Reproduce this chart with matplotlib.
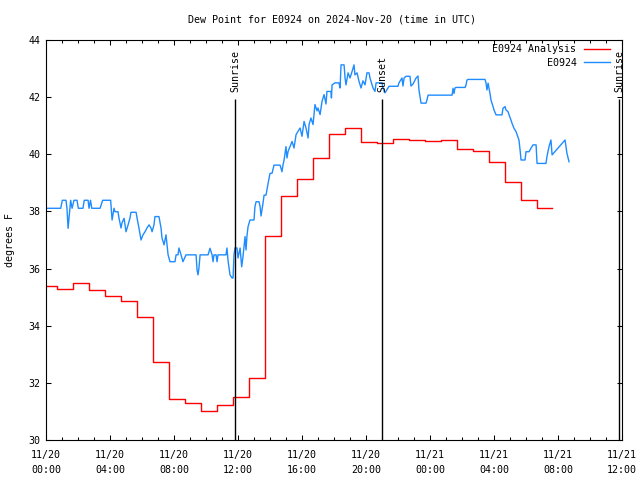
import matplotlib
matplotlib.use("Agg")
import matplotlib.pyplot as plt
from matplotlib.ticker import MultipleLocator

plt.rcParams['font.family'] = ['DejaVu Sans Mono']

# Analysis (hourly steps), hours since 11/20 00:00 UTC
red_t = [0.00, 0.67, 1.67, 2.67, 3.67, 4.67, 5.67, 6.67, 7.67, 8.67, 9.67, 10.67,
         11.67, 12.67, 13.67, 14.67, 15.67, 16.67, 17.67, 18.67, 19.67, 20.67, 21.67,
         22.67, 23.67, 24.67, 25.67, 26.67, 27.67, 28.67, 29.67, 30.67, 31.65]
red_v = [35.39, 35.28, 35.48, 35.24, 35.03, 34.85, 34.29, 32.72, 31.42, 31.28, 31.00, 31.21,
         31.49, 32.16, 37.15, 38.55, 39.14, 39.86, 40.70, 40.91, 40.42, 40.38, 40.55,
         40.51, 40.47, 40.49, 40.18, 40.10, 39.73, 39.04, 38.40, 38.11, 38.11]

# Observations
blue_t = [0.00, 0.92, 1.02, 1.25, 1.31, 1.38, 1.54, 1.63, 1.75, 1.94, 2.02, 2.31, 2.39, 2.63,
          2.69, 2.78, 2.86, 3.38, 3.54, 4.04, 4.13, 4.25, 4.31, 4.50, 4.56, 4.69, 4.75, 4.88,
          5.00, 5.13, 5.25, 5.31, 5.63, 5.69, 5.81, 5.94, 6.06, 6.19, 6.31, 6.44, 6.56, 6.63,
          6.75, 6.81, 7.06, 7.19, 7.25, 7.38, 7.50, 7.63, 7.75, 8.06, 8.13, 8.25, 8.31, 8.44,
          8.56, 8.75, 9.38, 9.44, 9.50, 9.56, 9.63, 10.13, 10.25, 10.38, 10.44, 10.50, 10.63,
          10.69, 10.75, 11.25, 11.31, 11.38, 11.50, 11.63, 11.69, 11.75, 11.81, 11.94, 12.00,
          12.13, 12.23, 12.31, 12.44, 12.50, 12.56, 12.63, 12.75, 13.00, 13.06, 13.13, 13.31,
          13.38, 13.44, 13.56, 13.63, 13.75, 13.88, 14.00, 14.13, 14.25, 14.63, 14.75, 14.81,
          14.88, 15.00, 15.06, 15.13, 15.25, 15.38, 15.50, 15.63, 15.75, 15.88, 16.00, 16.13,
          16.25, 16.38, 16.44, 16.56, 16.69, 16.81, 16.94, 17.00, 17.13, 17.25, 17.38, 17.50,
          17.56, 17.81, 17.84, 17.88, 18.06, 18.31, 18.38, 18.44, 18.63, 18.69, 18.75, 18.88,
          19.00, 19.13, 19.25, 19.31, 19.44, 19.56, 19.69, 19.81, 19.94, 20.06, 20.19, 20.25,
          20.38, 20.44, 20.56, 20.63, 21.00, 21.06, 21.19, 21.31, 21.44, 22.00, 22.06, 22.25,
          22.31, 22.38, 22.50, 22.75, 22.81, 22.94, 23.13, 23.25, 23.31, 23.44, 23.75, 23.81,
          23.88, 25.38, 25.44, 25.50, 25.56, 25.63, 26.19, 26.25, 26.31, 26.38, 27.44, 27.50,
          27.56, 27.63, 27.75, 27.81, 27.94, 28.00, 28.13, 28.50, 28.56, 28.69, 28.75, 28.88,
          28.94, 29.06, 29.13, 29.25, 29.38, 29.56, 29.63, 29.69, 29.94, 30.00, 30.19, 30.31,
          30.44, 30.63, 30.69, 31.25, 31.31, 31.44, 31.56, 31.63, 32.44, 32.56, 32.69]
blue_v = [38.11, 38.11, 38.39, 38.39, 38.11, 37.41, 38.39, 38.11, 38.39, 38.39, 38.11, 38.11,
          38.39, 38.39, 38.11, 38.39, 38.11, 38.11, 38.39, 38.39, 37.70, 38.11, 37.99, 37.99,
          37.77, 37.42, 37.60, 37.76, 37.29, 37.53, 37.77, 37.97, 37.97, 37.77, 37.42, 37.00,
          37.18, 37.29, 37.42, 37.53, 37.42, 37.29, 37.53, 37.82, 37.82, 37.42, 37.07, 36.83,
          37.18, 36.48, 36.24, 36.24, 36.48, 36.48, 36.72, 36.48, 36.24, 36.48, 36.48, 35.95,
          35.78, 36.02, 36.48, 36.48, 36.71, 36.48, 36.24, 36.48, 36.48, 36.24, 36.48, 36.48,
          36.72, 36.27, 35.78, 35.67, 35.67, 36.48, 36.72, 36.72, 36.37, 36.72, 36.06, 36.41,
          37.12, 36.65, 37.14, 37.47, 37.70, 37.70, 38.17, 38.34, 38.34, 38.17, 37.84, 38.28,
          38.57, 38.57, 38.98, 39.33, 39.34, 39.62, 39.62, 39.39, 39.62, 39.80, 40.27, 39.87,
          40.10, 40.27, 40.45, 40.22, 40.69, 40.80, 40.92, 40.63, 41.15, 40.92, 40.57, 41.04,
          41.27, 41.04, 41.74, 41.52, 41.62, 41.39, 41.85, 42.09, 41.76, 42.20, 42.20, 41.97,
          42.43, 42.50, 42.50, 42.32, 43.13, 43.13, 42.67, 42.43, 42.85, 42.67, 42.90, 43.13,
          42.78, 42.85, 42.56, 42.32, 42.57, 42.43, 42.85, 42.85, 42.67, 42.43, 42.32, 42.20,
          42.50, 42.50, 42.32, 42.15, 42.26, 42.38, 42.38, 42.50, 42.67, 42.39, 42.67, 42.73,
          42.73, 42.39, 42.46, 42.67, 42.74, 42.25, 41.79, 41.79, 41.90, 42.07, 42.07, 42.31,
          42.13, 42.32, 42.34, 42.34, 42.42, 42.60, 42.62, 42.62, 42.50, 42.25, 42.49, 42.13,
          41.90, 41.67, 41.55, 41.38, 41.38, 41.61, 41.67, 41.55, 41.49, 41.38, 41.20, 41.08,
          40.91, 40.79, 40.50, 40.15, 39.80, 39.80, 40.09, 40.09, 40.21, 40.33, 40.33, 39.68,
          39.68, 39.92, 40.27, 40.50, 39.98, 40.50, 40.03, 39.74]

events_t = [11.83, 21.02, 35.83]
events_label = ["Sunrise", "Sunset", "Sunrise"]

xtick_hours = [0, 4, 8, 12, 16, 20, 24, 28, 32, 36]
xtick_labels = ["11/20\n00:00", "11/20\n04:00", "11/20\n08:00", "11/20\n12:00",
                "11/20\n16:00", "11/20\n20:00", "11/21\n00:00", "11/21\n04:00",
                "11/21\n08:00", "11/21\n12:00"]
yticks = [30, 32, 34, 36, 38, 40, 42, 44]

FS = 7.2
fig = plt.figure(figsize=(6.4, 4.8), dpi=100)
ax = fig.add_axes([46/640, 40/480, 576/640, 400/480])

ax.step(red_t, red_v, where='post', color='#ff0000', lw=1.0, label='E0924 Analysis')
ax.plot(blue_t, blue_v, color='#1e8cff', lw=1.0, label='E0924')

for t, lab in zip(events_t, events_label):
    ax.vlines(t, 30, 41.95, color='black', lw=1.0)
    ax.text(t, 42.18, lab, rotation=90, ha='center', va='bottom', fontsize=FS)

ax.set_xlim(0, 36)
ax.set_ylim(30, 44)
ax.set_xticks(xtick_hours)
ax.set_xticklabels(xtick_labels, fontsize=FS, linespacing=1.6)
ax.xaxis.set_minor_locator(MultipleLocator(1))
ax.set_yticks(yticks)
ax.set_yticklabels([str(v) for v in yticks], fontsize=FS)
ax.tick_params(axis='both', which='major', direction='in', length=3.5, width=0.75,
               top=True, right=True)
ax.tick_params(axis='x', which='minor', direction='in', length=2, width=0.75, top=True)
ax.tick_params(axis='x', which='major', pad=7)
ax.tick_params(axis='y', which='major', pad=4)
for s in ax.spines.values():
    s.set_linewidth(0.8)

fig.text(10/640, 1 - 240/480, 'degrees F', rotation=90, ha='center', va='center',
         fontsize=FS)
fig.text(332/640, 1 - 20/480, 'Dew Point for E0924 on 2024-Nov-20 (time in UTC)',
         ha='center', va='center', fontsize=FS)

ax.legend(loc='upper right', bbox_to_anchor=(610/640, 1 - 44/480),
          bbox_transform=fig.transFigure, frameon=False, markerfirst=False,
          fontsize=FS, handlelength=2.6, handletextpad=0.75, labelspacing=0.35,
          borderaxespad=0, borderpad=0)

fig.savefig('out.png', dpi=100)
